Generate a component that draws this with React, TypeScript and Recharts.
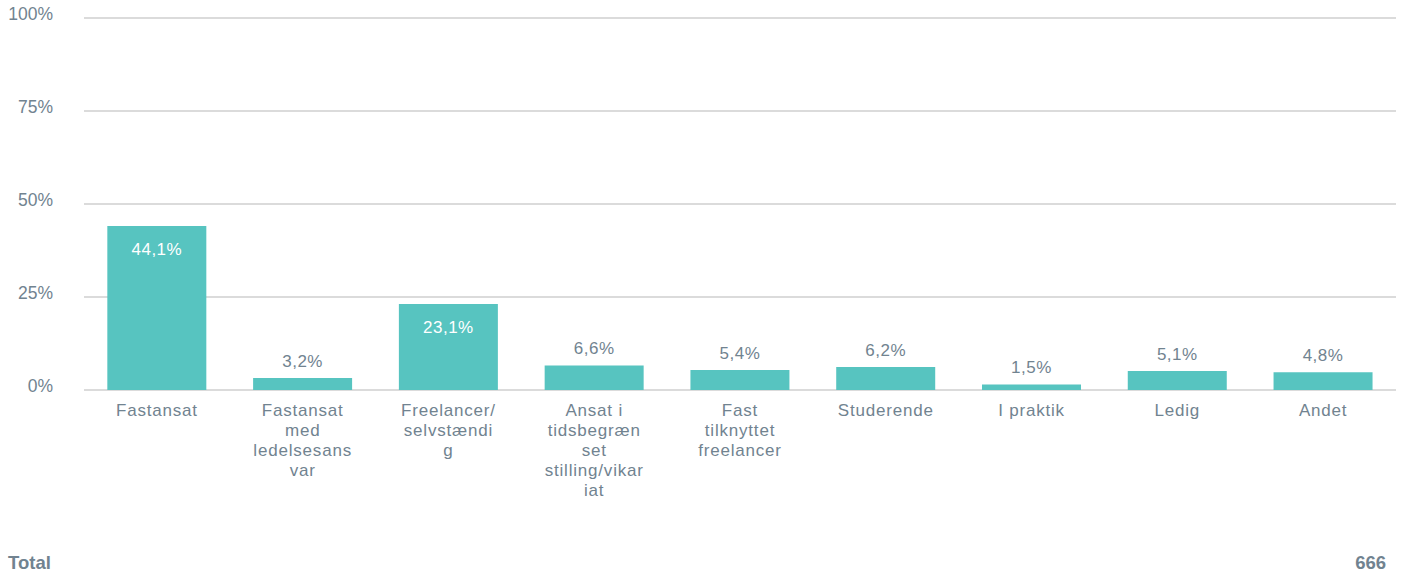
import React from "react";
import { BarChart, Bar, XAxis, YAxis, CartesianGrid, LabelList } from "recharts";

const categories = [
  "Fastansat",
  "Fastansat\nmed\nledelsesans\nvar",
  "Freelancer/\nselvstændi\ng",
  "Ansat i\ntidsbegræn\nset\nstilling/vikar\niat",
  "Fast\ntilknyttet\nfreelancer",
  "Studerende",
  "I praktik",
  "Ledig",
  "Andet",
];
const values = [44.1, 3.2, 23.1, 6.6, 5.4, 6.2, 1.5, 5.1, 4.8];
const yTicks = [0, 25, 50, 75, 100];
const totalLabel = "Total";
const totalValue = "666";

const TEXT = "#718390";
const BAR = "#57c4c0";
const GRID = "#cfcfcf";
const FONT = "'Liberation Sans', Arial, sans-serif";

const data = categories.map((c, i) => ({ name: c, value: values[i] }));

const fmt = (v: number) => v.toFixed(1).replace(".", ",") + "%";

const XTick = (props: any) => {
  const { x, y, payload } = props;
  const lines = String(payload.value).split("\n");
  return (
    <text x={x} y={y} textAnchor="middle" fill={TEXT} fontFamily={FONT} fontSize={17} letterSpacing={0.8}>
      {lines.map((l, i) => (
        <tspan key={i} x={x} dy={i === 0 ? 18 : 20}>
          {l}
        </tspan>
      ))}
    </text>
  );
};

const YTick = (props: any) => {
  const { y, payload } = props;
  return (
    <text x={53} y={y} dy={2} textAnchor="end" fill={TEXT} fontFamily={FONT} fontSize={17.5}>
      {payload.value}%
    </text>
  );
};

const ValueLabel = (props: any) => {
  const { x, y, width, value } = props;
  const inside = value >= 20;
  return (
    <text
      x={x + width / 2}
      y={inside ? y + 29 : y - 11}
      textAnchor="middle"
      fill={inside ? "#ffffff" : TEXT}
      fontFamily={FONT}
      fontSize={17}
      letterSpacing={0.5}
    >
      {fmt(value)}
    </text>
  );
};

export default function App() {
  return (
    <div style={{ position: "absolute", left: 0, top: 0, width: 1404, height: 577, background: "#fff" }}>
      <BarChart
        width={1404}
        height={577}
        data={data}
        margin={{ top: 18, right: 8, bottom: 0, left: 0 }}
        barCategoryGap="16%"
      >
        <CartesianGrid horizontal vertical={false} stroke={GRID} strokeWidth={1.5} />
        <YAxis
          width={84}
          domain={[0, 100]}
          ticks={yTicks}
          axisLine={false}
          tickLine={false}
          tick={<YTick />}
          interval={0}
        />
        <XAxis
          dataKey="name"
          height={187}
          axisLine={false}
          tickLine={false}
          tick={<XTick />}
          interval={0}
        />
        <Bar dataKey="value" fill={BAR} isAnimationActive={false}>
          <LabelList dataKey="value" content={<ValueLabel />} />
        </Bar>
      </BarChart>
      <div
        style={{
          position: "absolute",
          left: 8,
          top: 552,
          fontFamily: FONT,
          fontWeight: "bold",
          fontSize: 18.5,
          color: TEXT,
        }}
      >
        {totalLabel}
      </div>
      <div
        style={{
          position: "absolute",
          right: 18,
          top: 552,
          fontFamily: FONT,
          fontWeight: "bold",
          fontSize: 18.5,
          color: TEXT,
        }}
      >
        {totalValue}
      </div>
    </div>
  );
}
